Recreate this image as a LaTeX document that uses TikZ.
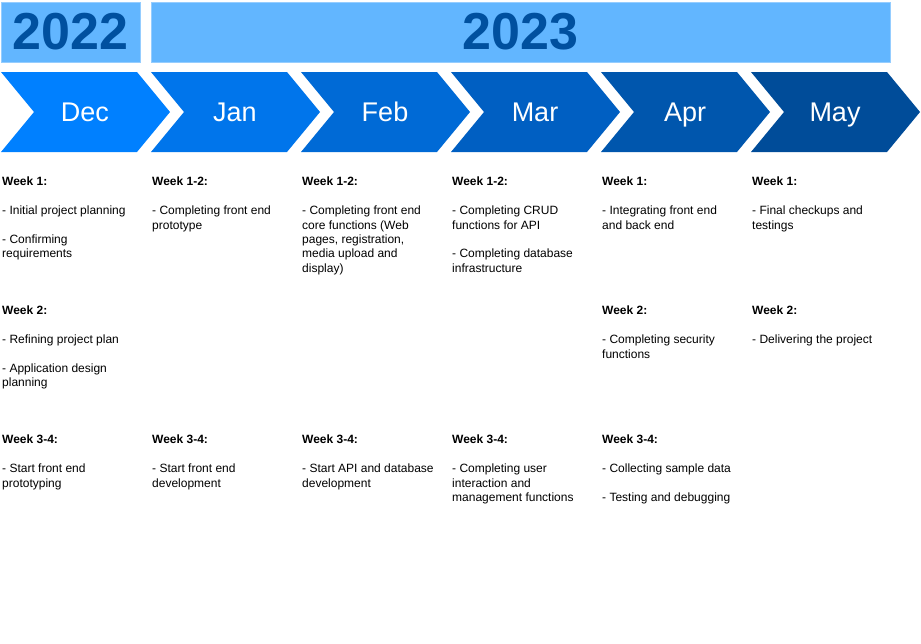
\documentclass[tikz,border=0pt]{standalone}
\usepackage{fontspec}
\setmainfont{Liberation Sans}
\definecolor{yearfill}{HTML}{62B6FF}
\definecolor{yearedge}{HTML}{95CDFF}
\definecolor{yeartext}{HTML}{00509F}
\definecolor{mDec}{HTML}{0080FF}
\definecolor{mJan}{HTML}{0075EB}
\definecolor{mFeb}{HTML}{006AD6}
\definecolor{mMar}{HTML}{005FC2}
\definecolor{mApr}{HTML}{0056AD}
\definecolor{mMay}{HTML}{004C99}
% line break followed by one empty line
\newcommand\blankgap{\\[14.4pt]}
\begin{document}
\begin{tikzpicture}[x=1pt,y=-1pt,
  yearbox/.style={fill=yearfill,draw=yearedge,line width=0.8pt},
  yearlabel/.style={anchor=base,text=yeartext,font=\fontsize{52}{60}\selectfont\bfseries,inner sep=0pt},
  monthlabel/.style={anchor=base,text=white,font=\fontsize{27}{30}\selectfont,inner sep=0pt},
  wk/.style={anchor=north west,align=left,inner sep=0pt,font=\fontsize{12}{14.4}\selectfont}]
\useasboundingbox[fill=white] (0,0) rectangle (921,643);

% year bars
\draw[yearbox] (1,2) rectangle (140,62);
\draw[yearbox] (151,2) rectangle (890,62);
\node[yearlabel] (y2022) at (70.5,49) {2022};
\node[yearlabel] (y2023) at (520.5,49) {2023};

% month chevrons
\foreach \i/\m/\c in {0/Dec/mDec,1/Jan/mJan,2/Feb/mFeb,3/Mar/mMar,4/Apr/mApr,5/May/mMay}{
  \pgfmathsetmacro\xo{1+150*\i}
  \fill[\c] (\xo,72) -- ++(136,0) -- ++(33,40) -- ++(-33,40) -- ++(-136,0) -- ++(33,-40) -- cycle;
  \node[monthlabel] (month\m) at (\xo+84,121.5) {\m};
}

% December
\node[wk] (dec1) at (2,177) {\textbf{Week 1:}\blankgap - Initial project planning\blankgap - Confirming\\requirements};
\node[wk] (dec2) at (2,306) {\textbf{Week 2:}\blankgap - Refining project plan\blankgap - Application design\\planning};
\node[wk] (dec3) at (2,435) {\textbf{Week 3-4:}\blankgap - Start front end\\prototyping};

% January
\node[wk] (jan1) at (152,177) {\textbf{Week 1-2:}\blankgap - Completing front end\\prototype};
\node[wk] (jan3) at (152,435) {\textbf{Week 3-4:}\blankgap - Start front end\\development};

% February
\node[wk] (feb1) at (302,177) {\textbf{Week 1-2:}\blankgap - Completing front end\\core functions (Web\\pages, registration,\\media upload and\\display)};
\node[wk] (feb3) at (302,435) {\textbf{Week 3-4:}\blankgap - Start API and database\\development};

% March
\node[wk] (mar1) at (452,177) {\textbf{Week 1-2:}\blankgap - Completing CRUD\\functions for API\blankgap - Completing database\\infrastructure};
\node[wk] (mar3) at (452,435) {\textbf{Week 3-4:}\blankgap - Completing user\\interaction and\\management functions};

% April
\node[wk] (apr1) at (602,177) {\textbf{Week 1:}\blankgap - Integrating front end\\and back end};
\node[wk] (apr2) at (602,306) {\textbf{Week 2:}\blankgap - Completing security\\functions};
\node[wk] (apr3) at (602,435) {\textbf{Week 3-4:}\blankgap - Collecting sample data\blankgap - Testing and debugging};

% May
\node[wk] (may1) at (752,177) {\textbf{Week 1:}\blankgap - Final checkups and\\testings};
\node[wk] (may2) at (752,306) {\textbf{Week 2:}\blankgap - Delivering the project};
\end{tikzpicture}
\end{document}
